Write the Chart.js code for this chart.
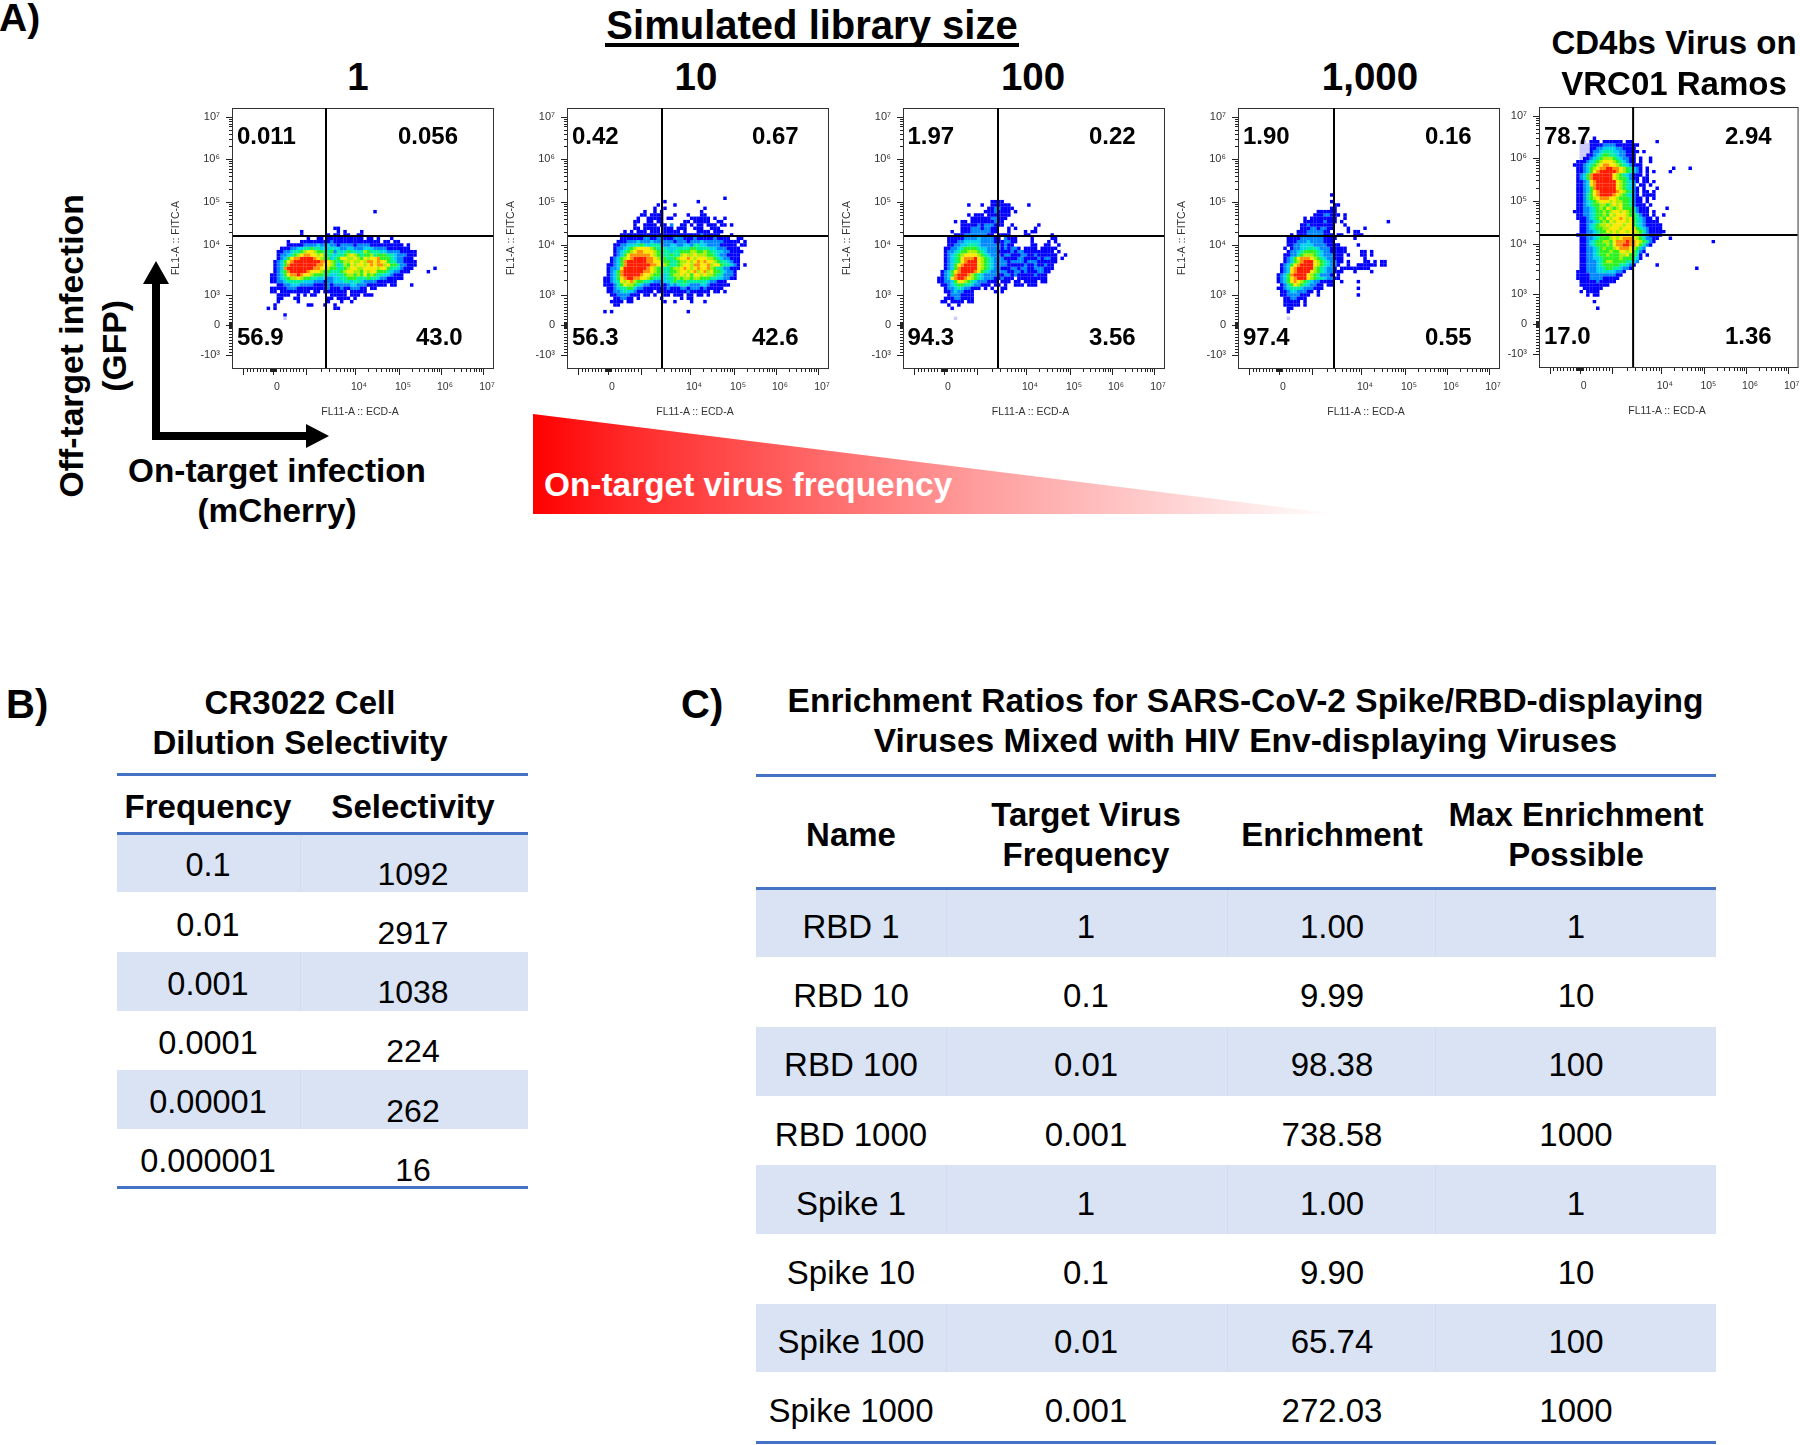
<!DOCTYPE html>
<html>
<head>
<meta charset="utf-8">
<title>Simulated library size</title>
<script src="https://cdn.jsdelivr.net/npm/chart.js@4"></script>
<style>
html, body { margin: 0; padding: 0; background: #fff; }
#page { position: relative; width: 1800px; height: 1445px; overflow: hidden; font-family: "Liberation Sans", Arial, sans-serif; color: #000; }
#page canvas { position: absolute; }
.t { position: absolute; white-space: nowrap; line-height: 1; }
.box { position: absolute; }
</style>
</head>
<body>
<div id="page">
<svg class="box" style="left:0;top:0" width="1800" height="1445">
  <defs>
    <linearGradient id="fade" x1="533" x2="1337" y1="0" y2="0" gradientUnits="userSpaceOnUse">
      <stop offset="0" stop-color="#ff0000"/>
      <stop offset="0.12" stop-color="#ff2a2a"/>
      <stop offset="0.55" stop-color="#ff9c9c"/>
      <stop offset="1" stop-color="#ffffff"/>
    </linearGradient>
  </defs>
  <polygon points="533,414 533,514 1337,514" fill="url(#fade)"/>
  <rect x="152" y="280" width="8" height="160"/>
  <polygon points="156,261 143,284 169,284"/>
  <rect x="152" y="432" width="156" height="8"/>
  <polygon points="329,436 306,424 306,448"/>
</svg>
</div>

<script>
// Panel A: pseudocolour cells, one string per row of cells.
// b blue, a azure, c cyan, e spring green, g green, l lime, y yellow, o orange, r red, p pale
const plot1Rows = [
  '................................b', '', '', '', '',
  '....................bb',
  '..........b..........b.b....b',
  '..........b.......b.bb.bb..bb',
  '............b..bb.bbbbbbbbbbb.bb.b...b',
  '......b...bbbbbbbbbabbbbbbbbbbbbbb.bb.bb',
  '......bbbbbaaaacaacaabaaaabaaaabbbbbbbbbb.b',
  '....bbbaacceegeeccceccaaccaaacccaaaabbbbbbb',
  '...bbaaceeglyylggeegaecegeecelgeeeccaaaabbbbb',
  '...baaceglyooyylygeeceeglylgegglegggeecaaabbb',
  '...bacgyoorrrroylggcegyyllylgylyyogggecaabbb',
  '..bacgyorrrrrrrrooylgegllyllylooyoyygeeaabbbb',
  '..bacgorrrrrrrrooyylgcelgylyylyoyoolyggeaabbb',
  '..bacorrrrrrrrooyylggeeglyyllyyyylyygeecabbb......b',
  '..baegorrrrroyyylggeeeglyyllgylyygggecaabbb.....b',
  '.bbacgyooroyylgggeecceegllglgyglgeeccabbb',
  '.bbacegllylggeecccaacceegggeeegeecaabbbbb',
  '.bbaaceeeeecccaaabaaccceeceecaaaabbbbbb',
  '...bbaacccaaaabbbbabaaaaaccaaabbbbbb.bb....b',
  '.bbbbbaaabbbbbbbbbabbbabbaaabb.bb',
  '.bb.bbbbbbbbb.bb.bbbbbbb.bbbbb',
  '...bbbb..b.b.bb....bbbbb.bbb.bbb',
  '...bb...bb........bb.bbbb.b',
  '...b.....b........b...b..b',
  '..b.........bb...b..b',
  'b.b.................bb',
  '',
  '.....b',
  '.....p'
];
const plot2Rows = [
  '',
  '....................................b',
  '..................b.........b',
  '................b....b',
  '...............b..b...........b',
  '............b..b.b...........b',
  '...........bb.bbbb...b...b...bb',
  '..........b..bbbbb.bb.....bbbbbb.b..b',
  '.........bb..bb.bb......bb.bbbbb..bb',
  '.........b..bbbb.bb.a..bb.b.bb.bbb.bb.b',
  '.........bb.bbbbb.bbb.bbb..bbb..bbb',
  '......b.b.bbb.bbb.bbbbb.b...bbbb.bbb',
  '.....bbbbbbbbbbbbbbbbbbbbbbbbabbbbb...b',
  '.....bbbbbbbaabbaabbbaaabbbabbbbbabbbb..bb',
  '....bbbaaacaaacaaaaaabaaabaaacaaaaaabbbbb.b',
  '...bbaacceegeceeecaaccaaccaeeccaaaabbbbb.bb',
  '...baaceglyyyylgeeeccceeeeggeeeeccaaabbbb',
  '...baceglyooyyylgeeeceegggllgglgeeccaabbbb',
  '...bacgyooooooylggeegeelyllylllggecaabbbb',
  '..bacglyorrrrooylggeeglyyoylyyyllgecaabbb',
  '..bacgorrrrrrooyylggeegllylyoyoyylgeecabb',
  '.bbacgorrrrrrrooyylgeeglyylooyyolyygeecab.b',
  '.baacyrrrrrrroylggeegllyoylyoyyolgeeaabbb',
  '.bacgorrrrrrooylggeegglyylyolyolyggecaab',
  '.bacgorrrrroyylggecegllylygyylyllgeeaaab',
  'bbacgyorrooyylgeecceeglgllgllgggeeccaabb',
  'bbaceylyolggeecaaaccegeegeeeeeecaabbb',
  'bbbaegyllgecaabbbabacaceecaaaccabbbbbb',
  '.bbaceeggcaabbbbbbbabbbaabaaababbbbb',
  '.bbaaceccabbbbb.bbbbbbbbbabbbbbb.bb.b',
  '..bbaaaabbb.bb.b..bb.bbb.bb.bb.b',
  '...bbaabb.b......b.....b.bb',
  '..bbbb.bb.........b..b....b...b',
  '...bb',
  '',
  'b.b......................b'
];
const plot3Rows = [
  '................bbbb',
  '.........b...b..bbbbbb.....b',
  '...............bbaabbbb',
  '..............bbbabbbb.b',
  '.........b.bbb.bbbbbbb',
  '..........bbbbbbaabbb',
  '.....b.bb.bbbbbbbabb',
  '.......bbbbbabaaabbb..b.......b',
  '.......bbbaaabaabb...b.b.....b',
  '....b..bbbaaaaaabb...b....b.bb',
  '.....bbbaaaaaaabb.bbbb....bb......b',
  '...bbbbbaaaacaaaabb.abbb....b.....bb',
  '...bbbaacccccaaaabbbaabb....b....b.b',
  '...bbaacceeecaaaaaababb.....bb..bb..b',
  '..bbaaceggggeccaaaababaab.bbbb.bbbbb',
  '..baacegglllgecaaabbbbabaabbbbbbbbb.b',
  '..baceglyyyylgecaaabaabbbaabbabbbbbb..b',
  '..bacegyooorylgecaaabbbbaabbbbabaabb.b',
  '..bacegyorrrylgecaaaabaaaabaaabbbbbb',
  '..bacgyorrrrylgecaaaabbbbbabbabbabb',
  '..bacgorrrrrylgecaabbbaabaabbaaabbb',
  '.bacgyorrrroygecaaaaabbaababbbaabb',
  '.bacgorrrolgecaaaabbaababbbbbabbb',
  'bbacyorroylgecaaabbabbb.bbbbbbbbb',
  'bbaacgyylgecaaabbb.bbb.bb.bbbb.bb',
  '.bbaceggeecaabbb.bb.b..bbb.bbb',
  '..baacecaabbb.b.b..bb',
  '..bbacaabbb......b.b',
  '...baaabbbb',
  '..bbbaabbbb',
  '.bb.bbbb.bb',
  '...b..b',
  '....b',
  '', '',
  '.....p'
];
const plot4Rows = [
  '................b',
  '',
  '................b',
  '.................bb',
  '................bb',
  '............bbbbbb',
  '...........bbbaabbb.b',
  '........b.bbbbbbbb..b',
  '........bbbbbbabbb.b.............b',
  '.......bbabbbbbbb...b',
  '.......bbbaabaabb....b....b',
  '......bbbaaaaabb.....b.bb',
  '....b.bbbaaaaabbb.bb...bbb',
  '...bbbbaaaaaaabbbb.....b',
  '...bbbaaacaaaabbb',
  '...bbaaccccaaaabbbb.....b',
  '..b.baacceeecaaabbbbb',
  '...baaceggggecaabbbbb....bb.b',
  '..bbaaeglllgecaaabbb.b...bb.b',
  '..bacgyoooylgecaabbb......b',
  '..bacglorrrylgecaabb.b....bb.b.bb',
  '.bacgyorrrrylgecaab..b..bbbbbb.bb',
  '.bacyorrrrrlgecaab.bbbbbbbbb',
  '.bacyorrrrylgecaabbb...b....b',
  'bacgorrrrylgeaaab.b',
  'bacgyorrrylgeecaabb',
  'bacgyoylgecaabbbb..b....b',
  '.baegylgecaabb.bb',
  'bbaceeecaaabbb..........b',
  '.bbaccaaabb.b',
  '.bbaaaabbb..b...........b',
  '..bbaabbb',
  '..bbbbb.b',
  '..bbbbb.b',
  '...bb',
  '...b',
  '',
  '...p'
];
const plot5Rows = [
  '',
  '......b',
  '..pp.bbb.bbbbbb.bb.......b',
  '..pppbbbbaaaabbbbbbb',
  '..pppbbaaccccaabbbb',
  '..pppbaaceeeccaabbbb.b',
  '..ppbbaceggeecaabbb',
  '..pbbaceglllgecaabb.b..b',
  '.bbbaceglyyylgecabb.b..b',
  'bbbaceglyooyylgecabbb',
  '.bbacglyoorrooylgecab.b.......b....b',
  '.bbacgyorrrrroylgecab.b.b....b',
  '.bacgorrrrrrylgecabbb.b',
  '.bacgorrrrrrylggeabb.bb',
  '.bbacyorrrrrrylgecab.bb.b',
  '.bbacyorrrrrrylgeca.bb.b',
  '.bbacgorrrrrrylgecab.b...b',
  '.bbacgyorrrrroylgeab.bb.b',
  '.bbaegyorrrroylgecab.bbbb',
  '.bbaeglyoooyylgggeabb.b.b',
  '.bbaceglyyylyllggeabb.b',
  '.bbaceggllglylyggeabbb.b',
  '.bbaaceglgylglygggeabbb.....b',
  'bbbaacegglglyylylgeabbb.b',
  '.bbaacegglgylyyylggeabb.b..b',
  '.bbbaceglgylyyoylygecabb.b',
  '..bbaaceglgylyyylygecabbbb',
  '..bbacegllylyyylyygecabbbbb',
  '..bbaceggllyyylyyyygecabbbb',
  '..bbaaceggylylyylyylgeabbbbb',
  '.bbbaaceglglylyyyyllgcabbbb',
  '..bbaaceggglylyoooylgeaabb...b',
  '..bbaceggllgyooorooylgeab.................b',
  '..bbaceggglgyoorrooygeab',
  '..bbaaceglgglyoooylgca',
  '..bbaaceggglggyylygeab',
  '..bbaacegglgggllyggeb.b',
  '..bbaacceggggglgggecb',
  '..bbaaacegllggggeeca',
  '..bbaaacegggggeecab......b',
  '..bbaaacceggeecaab...................b',
  '.bbbaaaccecccaab',
  '.bbbbaaaaaaaabb',
  '.bbbbaaaabbbbb',
  '..bbbbbabbbbb',
  '..bbbbbbbbb',
  '...bbbbbb',
  '..b.bbbb',
  '....b.bb',
  '',
  '......b',
  '',
  '.......b'
];

const libraryTitles = ['1', '10', '100', '1,000'];
const quadrantUpperLeft = ['0.011', '0.42', '1.97', '1.90', '78.7'];
const quadrantUpperRight = ['0.056', '0.67', '0.22', '0.16', '2.94'];
const quadrantLowerLeft = ['56.9', '56.3', '94.3', '97.4', '17.0'];
const quadrantLowerRight = ['43.0', '42.6', '3.56', '0.55', '1.36'];

const yTickValues = [13, 43, 73, 123, 166, 209, 251];
const yTickLabels = ['-10³', '0', '10³', '10⁴', '10⁵', '10⁶', '10⁷'];
const xTickValues = [10, 40, 73, 122, 166, 208, 250];
const xTickLabels = ['', '0', '', '10⁴', '10⁵', '10⁶', '10⁷'];

// Panel B
const dilutionFrequency = ['0.1', '0.01', '0.001', '0.0001', '0.00001', '0.000001'];
const dilutionSelectivity = ['1092', '2917', '1038', '224', '262', '16'];

// Panel C
const enrichmentName = ['RBD 1', 'RBD 10', 'RBD 100', 'RBD 1000', 'Spike 1', 'Spike 10', 'Spike 100', 'Spike 1000'];
const enrichmentFrequency = ['1', '0.1', '0.01', '0.001', '1', '0.1', '0.01', '0.001'];
const enrichmentValue = ['1.00', '9.99', '98.38', '738.58', '1.00', '9.90', '65.74', '272.03'];
const enrichmentMax = ['1', '10', '100', '1000', '1', '10', '100', '1000'];

// Layout of the plots
const PLOT_SIZE = 260;
const CELL = 10 / 3;
const plotSetup = [
  { rows: plot1Rows, left: 233, top: 108, gateX: 93, origin: [33.7, 158], upperRightX: 398, lowerRightX: 416, yTitle: true },
  { rows: plot2Rows, left: 568, top: 108, gateX: 94, origin: [35.3, 174.7], upperRightX: 752, lowerRightX: 752, yTitle: true },
  { rows: plot3Rows, left: 903.5, top: 108, gateX: 94, origin: [33.2, 168], upperRightX: 1089, lowerRightX: 1089, yTitle: true },
  { rows: plot4Rows, left: 1239, top: 108, gateX: 95, origin: [37.7, 174.7], upperRightX: 1425, lowerRightX: 1425, yTitle: true },
  { rows: plot5Rows, left: 1540, top: 107, gateX: 94, origin: [33.3, 233.7], upperRightX: 1725, lowerRightX: 1725, yTitle: false }
];
const GATE_Y = 132;

const levelColors = {
  p: '#c9c9fb', b: '#0000ff', a: '#0088ff', c: '#00d4ec', e: '#00f0a0',
  g: '#2cf020', l: '#a8f000', y: '#ffe800', o: '#ff9000', r: '#ff1c00'
};

const page = document.getElementById('page');

function addText(str, x, baseline, size, opts = {}) {
  const el = document.createElement('div');
  el.className = 't';
  el.textContent = str;
  el.style.fontSize = size + 'px';
  el.style.top = (baseline - size * 0.847) + 'px';
  el.style.left = x + 'px';
  if (opts.bold) el.style.fontWeight = 'bold';
  if (opts.color) el.style.color = opts.color;
  if (opts.center) el.style.transform = 'translateX(-50%)';
  if (opts.rotate) {
    el.style.top = (baseline - size / 2) + 'px';
    el.style.transform = 'translateX(-50%) rotate(-90deg)';
  }
  page.appendChild(el);
  return el;
}

function addBox(x, y, w, h, color) {
  const el = document.createElement('div');
  el.className = 'box';
  el.style.cssText = `left:${x}px;top:${y}px;width:${w}px;height:${h}px;background:${color}`;
  page.appendChild(el);
}

// Turn the row strings into one scatter dataset per colour
function buildDatasets(rows, origin) {
  const byLevel = {};
  rows.forEach((row, r) => {
    for (let c = 0; c < row.length; c++) {
      const ch = row[c];
      if (ch === '.') continue;
      (byLevel[ch] = byLevel[ch] || []).push({
        x: origin[0] + (c + 0.5) * CELL,
        y: origin[1] - (r + 0.5) * CELL
      });
    }
  });
  return Object.keys(levelColors).map(key => ({
    data: byLevel[key] || [],
    pointStyle: 'rect',
    pointRadius: 2.45,
    pointHoverRadius: 2.45,
    pointBorderWidth: 0,
    backgroundColor: levelColors[key],
    borderColor: levelColors[key],
    showLine: false
  }));
}

// Small tick positions between the big ticks
function minorTicks(values) {
  const zero = values[1], thousand = values[2];
  const out = [];
  [10, 20, 30, 40, 60, 80, 100, 200, 300, 400, 500, 600, 700, 800, 900].forEach(v => {
    const d = (thousand - zero) * v / 1000;
    out.push(zero + d, zero - d);
  });
  for (let i = 2; i < values.length - 1; i++) {
    for (let m = 2; m < 10; m++) {
      out.push(values[i] + Math.log10(m) * (values[i + 1] - values[i]));
    }
  }
  return out;
}

const framePlugin = {
  id: 'frame',
  afterDatasetsDraw(chart, args, opts) {
    const { ctx, chartArea: a, scales: { x, y } } = chart;
    ctx.save();
    // outward ticks
    ctx.strokeStyle = '#222';
    ctx.lineWidth = 1;
    ctx.beginPath();
    xTickValues.forEach(v => { const p = Math.round(x.getPixelForValue(v)) + 0.5; ctx.moveTo(p, a.bottom); ctx.lineTo(p, a.bottom + 7); });
    yTickValues.forEach(v => { const p = Math.round(y.getPixelForValue(v)) + 0.5; ctx.moveTo(a.left, p); ctx.lineTo(a.left - 7, p); });
    minorTicks(xTickValues).forEach(v => { const p = Math.round(x.getPixelForValue(v)) + 0.5; ctx.moveTo(p, a.bottom); ctx.lineTo(p, a.bottom + 4); });
    minorTicks(yTickValues).forEach(v => { const p = Math.round(y.getPixelForValue(v)) + 0.5; ctx.moveTo(a.left, p); ctx.lineTo(a.left - 4, p); });
    ctx.stroke();
    // plot frame
    ctx.strokeStyle = '#333';
    ctx.strokeRect(a.left - 0.5, a.top + 0.5, a.right - a.left + 1, a.bottom - a.top);
    // quadrant gates
    ctx.strokeStyle = '#000';
    ctx.lineWidth = 2;
    ctx.beginPath();
    const gx = x.getPixelForValue(opts.gateX), gy = y.getPixelForValue(GATE_Y);
    ctx.moveTo(gx, a.top); ctx.lineTo(gx, a.bottom);
    ctx.moveTo(a.left, gy); ctx.lineTo(a.right, gy);
    ctx.stroke();
    ctx.restore();
  }
};

// Fixed axis box, no extra room for hanging tick labels
function fixBox(s, w, h) {
  if (w) s.width = w;
  if (h) s.height = h;
  s.paddingLeft = s.paddingRight = s.paddingTop = s.paddingBottom = 0;
}

function drawPlot(p, i) {
  const canvas = document.createElement('canvas');
  const padRight = p.left + PLOT_SIZE + 10 > 1800 ? 0 : 10;
  canvas.width = 70 + PLOT_SIZE + padRight;
  canvas.height = 10 + PLOT_SIZE + 50;
  canvas.style.left = (p.left - 70) + 'px';
  canvas.style.top = (p.top - 10) + 'px';
  page.appendChild(canvas);

  new Chart(canvas, {
    type: 'scatter',
    data: { datasets: buildDatasets(p.rows, p.origin) },
    plugins: [framePlugin],
    options: {
      responsive: false,
      animation: false,
      events: [],
      layout: { padding: { top: 10, right: padRight, left: 0, bottom: 0 } },
      plugins: {
        legend: { display: false },
        tooltip: { enabled: false },
        frame: { gateX: p.gateX }
      },
      scales: {
        x: {
          type: 'linear', min: 0, max: PLOT_SIZE,
          afterFit(s) { fixBox(s, 0, 50); },
          afterBuildTicks(s) { s.ticks = xTickValues.map(v => ({ value: v })); },
          grid: { display: false, drawTicks: false },
          border: { display: false },
          ticks: {
            autoSkip: false, maxRotation: 0, padding: 13, labelOffset: 4, color: '#333',
            font: { family: 'Liberation Sans', size: 10.5 },
            callback: (v, idx) => xTickLabels[idx]
          }
        },
        y: {
          type: 'linear', min: 0, max: PLOT_SIZE,
          afterFit(s) { fixBox(s, 70, 0); },
          afterBuildTicks(s) { s.ticks = yTickValues.map(v => ({ value: v })); },
          grid: { display: false, drawTicks: false },
          border: { display: false },
          title: { display: p.yTitle, text: 'FL1-A :: FITC-A', color: '#333', font: { family: 'Liberation Sans', size: 10.5 }, padding: 7 },
          ticks: {
            autoSkip: false, padding: 13, color: '#333',
            font: { family: 'Liberation Sans', size: 11 },
            callback: (v, idx) => yTickLabels[idx]
          }
        }
      }
    }
  });

  // axis name and quadrant percentages
  const upper = 144, lower = i === 4 ? 344 : 345.5;
  addText('FL11-A :: ECD-A', p.left + 127, p.top + 307, 10.5, { center: true, color: '#333' });
  addText(quadrantUpperLeft[i], p.left + 4, upper, 24, { bold: true });
  addText(quadrantUpperRight[i], p.upperRightX, upper, 24, { bold: true });
  addText(quadrantLowerLeft[i], p.left + 4, lower, 24, { bold: true });
  addText(quadrantLowerRight[i], p.lowerRightX, lower, 24, { bold: true });
}

plotSetup.forEach(drawPlot);

// Panel A headings
addText('A)', -1, 31, 39, { bold: true });
addText('Simulated library size', 812, 39, 40, { bold: true, center: true });
addBox(605, 43, 414, 4, '#000');
const titleCenters = [358, 696, 1033, 1370];
libraryTitles.forEach((s, i) => addText(s, titleCenters[i], 91, 38.5, { bold: true, center: true }));
addText('CD4bs Virus on', 1674, 54, 33, { bold: true, center: true });
addText('VRC01 Ramos', 1674, 95, 33, { bold: true, center: true });
addText('Off-target infection', 71.7, 346, 33.7, { bold: true, rotate: true });
addText('(GFP)', 114.7, 346, 33.7, { bold: true, rotate: true });
addText('On-target infection', 277, 482, 33.3, { bold: true, center: true });
addText('(mCherry)', 277, 522, 33.3, { bold: true, center: true });
addText('On-target virus frequency', 544, 496, 33.4, { bold: true, color: '#fff' });

// Panel B table
const LINE = '#4472c4', BAND = '#dae3f3', DIVIDER = '#d3dcef';
addText('B)', 6, 718, 40, { bold: true });
addText('CR3022 Cell', 300, 714, 33, { bold: true, center: true });
addText('Dilution Selectivity', 300, 754, 33, { bold: true, center: true });
const bLeft = 117, bWidth = 411, bTop = 833.5, bRow = 59.2;
dilutionFrequency.forEach((f, i) => {
  const y = bTop + i * bRow;
  if (i % 2 === 0) {
    addBox(bLeft, y, bWidth, bRow - 0.5, BAND);
    addBox(300, y, 1, bRow - 0.5, DIVIDER);
  }
  addText(f, 208, y + 43.5, 32.5, { center: true });
  addText(dilutionSelectivity[i], 413, y + 51.5, 32, { center: true });
});
addBox(bLeft, 772.5, bWidth, 3, LINE);
addBox(bLeft, 832, bWidth, 3, LINE);
addBox(bLeft, 1186, bWidth, 3, LINE);
addText('Frequency', 208, 818, 33, { bold: true, center: true });
addText('Selectivity', 413, 818, 33, { bold: true, center: true });

// Panel C table
addText('C)', 681, 718, 40, { bold: true });
addText('Enrichment Ratios for SARS-CoV-2 Spike/RBD-displaying', 1245.5, 712, 33.5, { bold: true, center: true });
addText('Viruses Mixed with HIV Env-displaying Viruses', 1245.5, 752, 33.5, { bold: true, center: true });
const cLeft = 755.5, cWidth = 960.5, cTop = 888.5, cRow = 69.2;
const cCenters = [851, 1086, 1332, 1576];
const cDividers = [946, 1227, 1434.5];
enrichmentName.forEach((name, i) => {
  const y = cTop + i * cRow;
  if (i % 2 === 0) {
    addBox(cLeft, y, cWidth, cRow - 0.5, BAND);
    cDividers.forEach(d => addBox(d, y, 1, cRow - 0.5, DIVIDER));
  }
  [name, enrichmentFrequency[i], enrichmentValue[i], enrichmentMax[i]].forEach((s, c) => {
    addText(s, cCenters[c], y + 49.5, 33, { center: true });
  });
});
addBox(cLeft, 773.5, cWidth, 3, LINE);
addBox(cLeft, 887, cWidth, 3, LINE);
addBox(cLeft, 1441, cWidth, 3, LINE);
addText('Name', cCenters[0], 845.5, 33, { bold: true, center: true });
addText('Target Virus', cCenters[1], 826, 33, { bold: true, center: true });
addText('Frequency', cCenters[1], 866, 33, { bold: true, center: true });
addText('Enrichment', cCenters[2], 845.5, 33, { bold: true, center: true });
addText('Max Enrichment', cCenters[3], 826, 33, { bold: true, center: true });
addText('Possible', cCenters[3], 866, 33, { bold: true, center: true });
</script>
</body>
</html>
